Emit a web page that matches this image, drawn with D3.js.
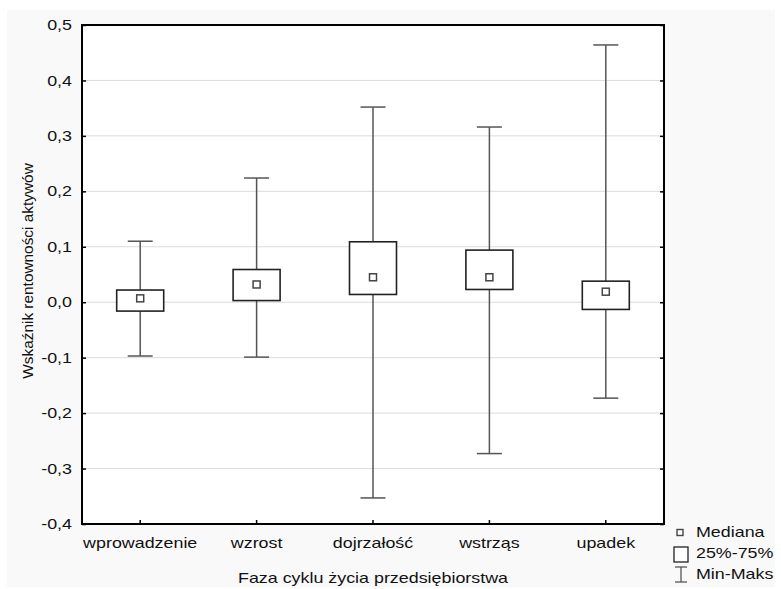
<!DOCTYPE html>
<html><head><meta charset="utf-8">
<script src="https://cdn.jsdelivr.net/npm/d3@7"></script>
<style>body{margin:0;background:#fff}svg{display:block}text{font-family:"Liberation Sans",Arial,sans-serif;fill:#111}</style>
</head><body><svg id="c" width="781" height="589"></svg>
<script>
const categories = ["wprowadzenie","wzrost","dojrzałość","wstrząs","upadek"];
const minVals = [-0.097,-0.099,-0.353,-0.273,-0.173];
const q1Vals = [-0.016,0.003,0.014,0.023,-0.013];
const medianVals = [0.007,0.032,0.045,0.045,0.019];
const q3Vals = [0.022,0.059,0.109,0.094,0.038];
const maxVals = [0.110,0.224,0.352,0.316,0.464];
const yTicks = [-0.4,-0.3,-0.2,-0.1,0.0,0.1,0.2,0.3,0.4,0.5];
const legendLabels = ["Mediana","25%-75%","Min-Maks"];
const xTitle = "Faza cyklu życia przedsiębiorstwa";
const yTitle = "Wskaźnik rentowności aktywów";

const SX = 1.25, FS = 14.3;
function stretch(sel){
  sel.each(function(){
    const t = d3.select(this);
    const x0 = +(t.attr("x")||0);
    t.attr("transform",`translate(${x0},0) scale(${SX},1) translate(${-x0},0)`);
  });
}

const svg = d3.select("#c");
svg.append("rect").attr("x",7).attr("y",10).attr("width",768).attr("height",577).attr("fill","#f9f9f9");
const L=82,T=25,R=664,B=524;
svg.append("rect").attr("x",L).attr("y",T).attr("width",R-L).attr("height",B-T).attr("fill","#fff");
const x = d3.scaleBand().domain(categories).range([L,R]);
const y = d3.scaleLinear().domain([-0.4,0.5]).range([B,T]);
const fmt = d => d3.format(".1f")(d).replace(".",",").replace("−","-");

// grid
svg.append("g").selectAll("line").data(yTicks.slice(1,-1)).join("line")
  .attr("x1",L).attr("x2",R).attr("y1",d=>y(d)).attr("y2",d=>y(d))
  .attr("stroke","#dcdcdc").attr("stroke-width",1);

// axes
const yAx = svg.append("g").attr("transform",`translate(${L},0)`)
  .call(d3.axisLeft(y).tickValues(yTicks).tickFormat(fmt).tickSizeInner(-4).tickSizeOuter(0).tickPadding(10));
yAx.select(".domain").remove();
yAx.selectAll("text").attr("font-size",FS).style("fill","#111").call(stretch);
yAx.selectAll("line").attr("stroke","#000").attr("stroke-width",1.5);
const yAxR = svg.append("g").attr("transform",`translate(${R},0)`)
  .call(d3.axisRight(y).tickValues(yTicks).tickFormat("").tickSizeInner(-4).tickSizeOuter(0));
yAxR.select(".domain").remove();
yAxR.selectAll("line").attr("stroke","#000").attr("stroke-width",1.5);
const xAx = svg.append("g").attr("transform",`translate(0,${B})`)
  .call(d3.axisBottom(x).tickSizeInner(-4).tickSizeOuter(0));
xAx.select(".domain").remove();
xAx.selectAll("text").attr("font-size",FS).attr("y",24).attr("dy",null).style("fill","#111").call(stretch);
xAx.selectAll("line").attr("stroke","#000").attr("stroke-width",1.5);
svg.append("rect").attr("x",L).attr("y",T).attr("width",R-L).attr("height",B-T)
  .attr("fill","none").attr("stroke","#000").attr("stroke-width",2);

// boxes
const data = categories.map((c,i)=>({c,min:minVals[i],q1:q1Vals[i],med:medianVals[i],q3:q3Vals[i],max:maxVals[i]}));
const bw = 47, cw = 25, ms = 7;
const g = svg.append("g").selectAll("g").data(data).join("g")
  .attr("transform",d=>`translate(${x(d.c)+x.bandwidth()/2},0)`);
g.append("line").attr("x1",0).attr("x2",0).attr("y1",d=>y(d.max)).attr("y2",d=>y(d.q3)).attr("stroke","#555").attr("stroke-width",1.5);
g.append("line").attr("x1",0).attr("x2",0).attr("y1",d=>y(d.q1)).attr("y2",d=>y(d.min)).attr("stroke","#555").attr("stroke-width",1.5);
g.append("line").attr("x1",-cw/2).attr("x2",cw/2).attr("y1",d=>y(d.max)).attr("y2",d=>y(d.max)).attr("stroke","#555").attr("stroke-width",1.5);
g.append("line").attr("x1",-cw/2).attr("x2",cw/2).attr("y1",d=>y(d.min)).attr("y2",d=>y(d.min)).attr("stroke","#555").attr("stroke-width",1.5);
g.append("rect").attr("x",-bw/2).attr("width",bw).attr("y",d=>y(d.q3)).attr("height",d=>y(d.q1)-y(d.q3))
  .attr("fill","#fff").attr("stroke","#222").attr("stroke-width",1.6);
g.append("rect").attr("x",-ms/2).attr("width",ms).attr("y",d=>y(d.med)-ms/2).attr("height",ms)
  .attr("fill","#fff").attr("stroke","#444").attr("stroke-width",1.5);

// titles
svg.append("text").attr("x",(L+R)/2).attr("y",583).attr("text-anchor","middle").attr("font-size",FS).text(xTitle).call(stretch);
svg.append("text").attr("transform","translate(33,271) rotate(-90)").attr("text-anchor","middle").attr("font-size",15.4).text(yTitle);

// legend
const lg = svg.append("g");
lg.append("rect").attr("x",677).attr("y",529.5).attr("width",6).attr("height",6).attr("fill","#fff").attr("stroke","#444").attr("stroke-width",1.4);
lg.append("rect").attr("x",674).attr("y",547).attr("width",14).attr("height",15).attr("fill","#fff").attr("stroke","#222").attr("stroke-width",1.3);
lg.append("line").attr("x1",675).attr("x2",687).attr("y1",567).attr("y2",567).attr("stroke","#555").attr("stroke-width",1.3);
lg.append("line").attr("x1",675).attr("x2",687).attr("y1",582).attr("y2",582).attr("stroke","#555").attr("stroke-width",1.3);
lg.append("line").attr("x1",681).attr("x2",681).attr("y1",567).attr("y2",582).attr("stroke","#555").attr("stroke-width",1.3);
lg.selectAll("text.l").data(legendLabels).join("text").attr("class","l")
  .attr("x",696).attr("y",(d,i)=>537+i*21).attr("font-size",FS).text(d=>d).call(stretch);
</script></body></html>
